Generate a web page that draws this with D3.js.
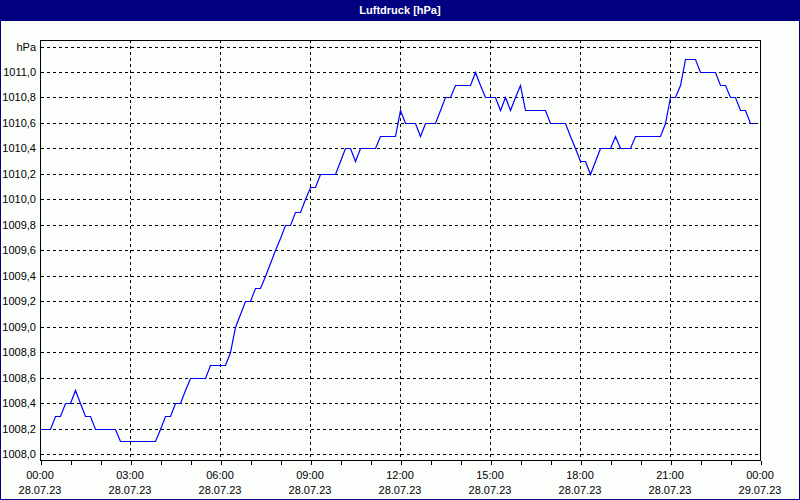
<!DOCTYPE html>
<html>
<head>
<meta charset="utf-8">
<script src="https://cdn.jsdelivr.net/npm/d3@7"></script>
<style>
  html, body { margin: 0; padding: 0; background: #fff; }
  svg { display: block; }
  text { font-family: "Liberation Sans", Arial, sans-serif; }
</style>
</head>
<body>
<svg id="chart" width="800" height="500"></svg>
<script>
// ---- data ----
const title = "Luftdruck [hPa]";
const unitLabel = "hPa";
const startHour = 0;          // 28.07.23 00:00
const stepMinutes = 10;       // one reading every 10 minutes
const pressure = [
  1008.2, 1008.2, 1008.2, 1008.3, 1008.3, 1008.4, 1008.4, 1008.5, 1008.4, 1008.3,
  1008.3, 1008.2, 1008.2, 1008.2, 1008.2, 1008.2, 1008.1, 1008.1, 1008.1, 1008.1,
  1008.1, 1008.1, 1008.1, 1008.1, 1008.2, 1008.3, 1008.3, 1008.4, 1008.4, 1008.5,
  1008.6, 1008.6, 1008.6, 1008.6, 1008.7, 1008.7, 1008.7, 1008.7, 1008.8, 1009.0,
  1009.1, 1009.2, 1009.2, 1009.3, 1009.3, 1009.4, 1009.5, 1009.6, 1009.7, 1009.8,
  1009.8, 1009.9, 1009.9, 1010.0, 1010.1, 1010.1, 1010.2, 1010.2, 1010.2, 1010.2,
  1010.3, 1010.4, 1010.4, 1010.3, 1010.4, 1010.4, 1010.4, 1010.4, 1010.5, 1010.5,
  1010.5, 1010.5, 1010.7, 1010.6, 1010.6, 1010.6, 1010.5, 1010.6, 1010.6, 1010.6,
  1010.7, 1010.8, 1010.8, 1010.9, 1010.9, 1010.9, 1010.9, 1011.0, 1010.9, 1010.8,
  1010.8, 1010.8, 1010.7, 1010.8, 1010.7, 1010.8, 1010.9, 1010.7, 1010.7, 1010.7,
  1010.7, 1010.7, 1010.6, 1010.6, 1010.6, 1010.6, 1010.5, 1010.4, 1010.3, 1010.3,
  1010.2, 1010.3, 1010.4, 1010.4, 1010.4, 1010.5, 1010.4, 1010.4, 1010.4, 1010.5,
  1010.5, 1010.5, 1010.5, 1010.5, 1010.5, 1010.6, 1010.8, 1010.8, 1010.9, 1011.1,
  1011.1, 1011.1, 1011.0, 1011.0, 1011.0, 1011.0, 1010.9, 1010.9, 1010.8, 1010.8,
  1010.7, 1010.7, 1010.6, 1010.6
];
const yTicks = [1008.0, 1008.2, 1008.4, 1008.6, 1008.8, 1009.0, 1009.2, 1009.4, 1009.6,
                1009.8, 1010.0, 1010.2, 1010.4, 1010.6, 1010.8, 1011.0, 1011.2];
const xMajorHours = [0, 3, 6, 9, 12, 15, 18, 21, 24];
const timeLabels = ["00:00", "03:00", "06:00", "09:00", "12:00", "15:00", "18:00", "21:00", "00:00"];
const dateLabels = ["28.07.23", "28.07.23", "28.07.23", "28.07.23", "28.07.23", "28.07.23", "28.07.23", "28.07.23", "29.07.23"];

// ---- layout ----
const W = 800, H = 500;
const plotLeft = 40, plotRight = 760, plotTop = 40, plotBottom = 460;
const navy = "#000080", bg = "#fbfefb";

const svg = d3.select("#chart");

// window background and border
svg.append("rect").attr("x", 0).attr("y", 0).attr("width", W).attr("height", H).attr("fill", navy);
svg.append("rect").attr("x", 1).attr("y", 21).attr("width", W - 2).attr("height", H - 22).attr("fill", bg);

// title
svg.append("text")
  .attr("x", W / 2).attr("y", 14)
  .attr("text-anchor", "middle")
  .attr("fill", "#fff")
  .attr("font-size", "11px")
  .attr("font-weight", "bold")
  .text(title);

// scales
const x = d3.scaleLinear().domain([0, 24]).range([plotLeft, plotRight]);
const y = d3.scaleLinear().domain([1008.0, 1011.2]).range([454, 46.5]);
const px = v => Math.round(v) + 0.5;

// horizontal dashed gridlines
svg.append("g").selectAll("line").data(yTicks).join("line")
  .attr("x1", plotLeft + 1).attr("x2", plotRight)
  .attr("y1", d => px(y(d))).attr("y2", d => px(y(d)))
  .attr("stroke", "#000").attr("stroke-width", 1)
  .attr("stroke-dasharray", "3,3")
  .attr("shape-rendering", "crispEdges");

// vertical dashed gridlines
svg.append("g").selectAll("line").data(xMajorHours.slice(1, -1)).join("line")
  .attr("x1", d => px(x(d))).attr("x2", d => px(x(d)))
  .attr("y1", plotTop).attr("y2", plotBottom)
  .attr("stroke", "#000").attr("stroke-width", 1)
  .attr("stroke-dasharray", "3,3")
  .attr("shape-rendering", "crispEdges");

// plot frame
svg.append("rect")
  .attr("x", plotLeft + 0.5).attr("y", plotTop + 0.5)
  .attr("width", plotRight - plotLeft).attr("height", plotBottom - plotTop)
  .attr("fill", "none").attr("stroke", "#000").attr("stroke-width", 1)
  .attr("shape-rendering", "crispEdges");

// x axis hourly ticks
const xAxis = d3.axisBottom(x)
  .tickValues(d3.range(0, 25, 1))
  .tickSize(4)
  .tickFormat("");
const gx = svg.append("g").attr("transform", `translate(0.5,${plotBottom + 0.5})`).call(xAxis);
gx.select(".domain").remove();
gx.selectAll(".tick line").attr("stroke", "#000").attr("shape-rendering", "crispEdges");

// x labels
const xl = svg.append("g");
xl.selectAll("text.t").data(xMajorHours).join("text")
  .attr("class", "t")
  .attr("x", d => x(d)).attr("y", 479)
  .attr("text-anchor", "middle").attr("font-size", "11px").attr("fill", "#000")
  .text((d, i) => timeLabels[i]);
xl.selectAll("text.d").data(xMajorHours).join("text")
  .attr("class", "d")
  .attr("x", d => x(d)).attr("y", 494)
  .attr("text-anchor", "middle").attr("font-size", "11px").attr("fill", "#000")
  .text((d, i) => dateLabels[i]);

// y labels
const yAxis = d3.axisLeft(y)
  .tickValues(yTicks)
  .tickSize(0)
  .tickPadding(0)
  .tickFormat(d => d > 1011.1 ? unitLabel : d3.format(".1f")(d).replace(".", ","));
const gy = svg.append("g").attr("transform", `translate(${plotLeft - 4},0)`).call(yAxis);
gy.select(".domain").remove();
gy.selectAll("text")
  .attr("font-size", "11px")
  .attr("font-family", "'Liberation Sans', Arial, sans-serif")
  .attr("fill", "#000");

// data line
const line = d3.line()
  .x((d, i) => px(x(startHour + i * stepMinutes / 60)))
  .y(d => px(y(d)));
svg.append("path")
  .datum(pressure)
  .attr("d", line)
  .attr("fill", "none")
  .attr("stroke", "#0000ff")
  .attr("stroke-width", 1.2);
</script>
</body>
</html>
